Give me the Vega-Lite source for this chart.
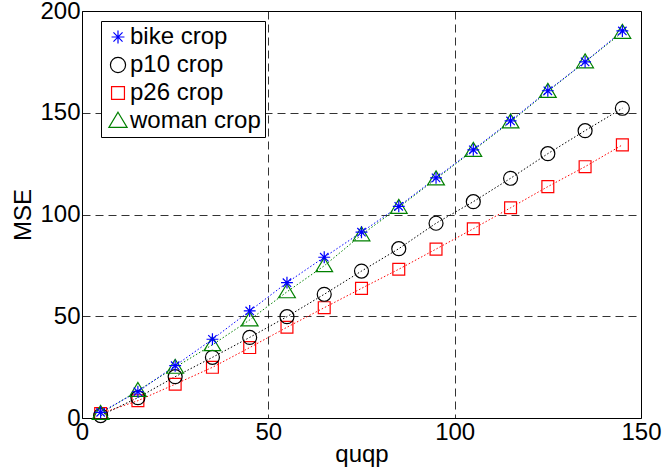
{
  "$schema": "https://vega.github.io/schema/vega-lite/v6.json",
  "width": 559,
  "height": 407,
  "autosize": {"type": "none"},
  "padding": {"left": 82, "top": 11, "right": 21, "bottom": 52},
  "background": "white",
  "config": {
    "font": "Liberation Sans",
    "view": {"stroke": "black", "strokeWidth": 1},
    "axis": {
      "labelFont": "Liberation Sans",
      "titleFont": "Liberation Sans",
      "labelFontSize": 24,
      "titleFontSize": 24,
      "titleFontWeight": "normal",
      "labelColor": "black",
      "titleColor": "black",
      "domain": false,
      "ticks": false,
      "gridColor": "black",
      "gridOpacity": 0.8,
      "gridDash": [8, 5],
      "gridWidth": 1
    }
  },
  "data": {
    "values": [
      {"qp": 5, "series": "p26 crop", "mse": 2.2},
      {"qp": 15, "series": "p26 crop", "mse": 8.5},
      {"qp": 25, "series": "p26 crop", "mse": 16.6},
      {"qp": 35, "series": "p26 crop", "mse": 24.9},
      {"qp": 45, "series": "p26 crop", "mse": 34.6},
      {"qp": 55, "series": "p26 crop", "mse": 44.6},
      {"qp": 65, "series": "p26 crop", "mse": 54.2},
      {"qp": 75, "series": "p26 crop", "mse": 63.7},
      {"qp": 85, "series": "p26 crop", "mse": 73.1},
      {"qp": 95, "series": "p26 crop", "mse": 83.0},
      {"qp": 105, "series": "p26 crop", "mse": 93.0},
      {"qp": 115, "series": "p26 crop", "mse": 103.3},
      {"qp": 125, "series": "p26 crop", "mse": 113.7},
      {"qp": 135, "series": "p26 crop", "mse": 123.5},
      {"qp": 145, "series": "p26 crop", "mse": 134.2},
      {"qp": 5, "series": "p10 crop", "mse": 1.2},
      {"qp": 15, "series": "p10 crop", "mse": 10.0},
      {"qp": 25, "series": "p10 crop", "mse": 20.3},
      {"qp": 35, "series": "p10 crop", "mse": 29.8},
      {"qp": 45, "series": "p10 crop", "mse": 39.6},
      {"qp": 55, "series": "p10 crop", "mse": 49.8},
      {"qp": 65, "series": "p10 crop", "mse": 60.8},
      {"qp": 75, "series": "p10 crop", "mse": 72.2},
      {"qp": 85, "series": "p10 crop", "mse": 83.2},
      {"qp": 95, "series": "p10 crop", "mse": 95.7},
      {"qp": 105, "series": "p10 crop", "mse": 106.3},
      {"qp": 115, "series": "p10 crop", "mse": 117.8},
      {"qp": 125, "series": "p10 crop", "mse": 129.9},
      {"qp": 135, "series": "p10 crop", "mse": 141.2},
      {"qp": 145, "series": "p10 crop", "mse": 152.2},
      {"qp": 5, "series": "woman crop", "mse": 2.2},
      {"qp": 15, "series": "woman crop", "mse": 13.5},
      {"qp": 25, "series": "woman crop", "mse": 24.9},
      {"qp": 35, "series": "woman crop", "mse": 36.0},
      {"qp": 45, "series": "woman crop", "mse": 48.2},
      {"qp": 55, "series": "woman crop", "mse": 62.0},
      {"qp": 65, "series": "woman crop", "mse": 74.8},
      {"qp": 75, "series": "woman crop", "mse": 90.0},
      {"qp": 85, "series": "woman crop", "mse": 103.5},
      {"qp": 95, "series": "woman crop", "mse": 117.5},
      {"qp": 105, "series": "woman crop", "mse": 131.5},
      {"qp": 115, "series": "woman crop", "mse": 145.5},
      {"qp": 125, "series": "woman crop", "mse": 160.5},
      {"qp": 135, "series": "woman crop", "mse": 175.0},
      {"qp": 145, "series": "woman crop", "mse": 189.5},
      {"qp": 5, "series": "bike crop", "mse": 2.8},
      {"qp": 15, "series": "bike crop", "mse": 12.9},
      {"qp": 25, "series": "bike crop", "mse": 25.7},
      {"qp": 35, "series": "bike crop", "mse": 38.7},
      {"qp": 45, "series": "bike crop", "mse": 52.6},
      {"qp": 55, "series": "bike crop", "mse": 66.5},
      {"qp": 65, "series": "bike crop", "mse": 79.0},
      {"qp": 75, "series": "bike crop", "mse": 91.3},
      {"qp": 85, "series": "bike crop", "mse": 104.0},
      {"qp": 95, "series": "bike crop", "mse": 118.0},
      {"qp": 105, "series": "bike crop", "mse": 131.8},
      {"qp": 115, "series": "bike crop", "mse": 146.0},
      {"qp": 125, "series": "bike crop", "mse": 160.8},
      {"qp": 135, "series": "bike crop", "mse": 175.0},
      {"qp": 145, "series": "bike crop", "mse": 190.2}
    ]
  },
  "encoding": {
    "x": {
      "field": "qp", "type": "quantitative", "title": "quqp",
      "scale": {"domain": [0, 150], "nice": false, "zero": false},
      "axis": {"values": [0, 50, 100, 150], "labelPadding": 2, "titlePadding": -2, "labelFlush": false, "labelOverlap": false}
    },
    "y": {
      "field": "mse", "type": "quantitative", "title": "MSE",
      "scale": {"domain": [0, 200], "nice": false},
      "axis": {"values": [0, 50, 100, 150, 200], "labelPadding": 2, "titlePadding": 4, "labelFlush": false, "labelOverlap": false}
    },
    "color": {
      "field": "series", "type": "nominal",
      "scale": {
        "domain": ["bike crop", "p10 crop", "p26 crop", "woman crop"],
        "range": ["#0000ff", "#000000", "#ff0000", "#008000"]
      }
    }
  },
  "layer": [
    {
      "mark": {"type": "line", "strokeWidth": 1, "strokeDash": [1.5, 2]},
      "encoding": {"detail": {"field": "series"}}
    },
    {
      "mark": {"type": "point", "filled": false, "strokeWidth": 1.2, "size": 195, "opacity": 1},
      "encoding": {
        "shape": {
          "field": "series", "type": "nominal",
          "scale": {
            "domain": ["bike crop", "p10 crop", "p26 crop", "woman crop"],
            "range": [
              "M-0.85,0L0.85,0M0,-0.85L0,0.85M-0.6,-0.6L0.6,0.6M-0.6,0.6L0.6,-0.6",
              "circle",
              "M-0.85,-0.85L0.85,-0.85L0.85,0.85L-0.85,0.85Z",
              "M0,-1.15L1.2,0.85L-1.2,0.85Z"
            ]
          },
          "legend": {
            "orient": "none",
            "legendX": 19,
            "legendY": 10,
            "title": null,
            "labelFontSize": 24,
            "labelFont": "Liberation Sans",
            "labelColor": "black",
            "symbolSize": 230,
            "symbolStrokeWidth": 1.2,
            "symbolFillColor": "transparent",
            "strokeColor": "black",
            "fillColor": "white",
            "padding": 4,
            "rowPadding": 4,
            "labelOffset": 0,
            "symbolOffset": 1
          }
        }
      }
    }
  ]
}
